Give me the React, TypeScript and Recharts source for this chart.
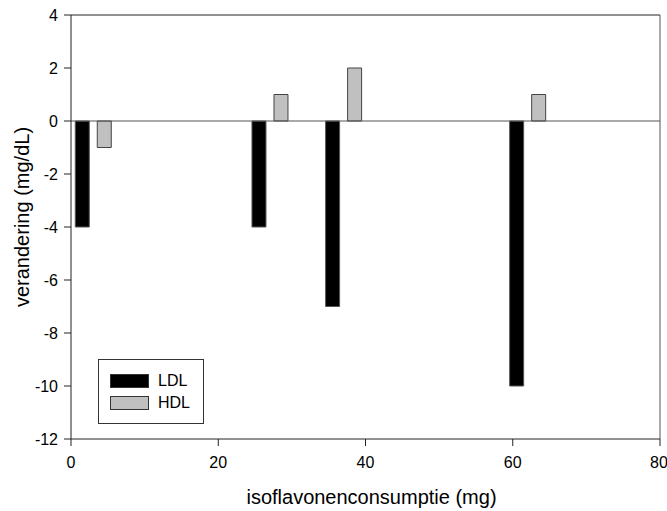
import React from "react";
import { ComposedChart, Bar, XAxis, YAxis, ReferenceLine } from "recharts";

const groupX = [3, 27, 37, 62];
const ldlValues = [-4, -4, -7, -10];
const hdlValues = [-1, 1, 2, 1];
const xTicks = [0, 20, 40, 60, 80];
const yTicks = [-12, -10, -8, -6, -4, -2, 0, 2, 4];
const seriesNames = ["LDL", "HDL"];
const seriesFills = ["#000000", "#c0c0c0"];

const data = groupX.map((x, i) => ({ x, LDL: ldlValues[i], HDL: hdlValues[i] }));

const FONT = "'Liberation Sans', Arial, sans-serif";

const XLabel = (props: any) => {
  const vb = props.viewBox || {};
  const cx = vb.x + vb.width / 2 + 6;
  return (
    <text x={cx} y={504} textAnchor="middle" fontSize={20} fontFamily={FONT} fill="#000">
      isoflavonenconsumptie (mg)
    </text>
  );
};

const YLabel = (props: any) => {
  const vb = props.viewBox || {};
  const cy = vb.y + vb.height / 2 - 10;
  const x = 29;
  return (
    <text
      x={x}
      y={cy}
      textAnchor="middle"
      fontSize={20}
      fontFamily={FONT}
      fill="#000"
      transform={`rotate(-90, ${x}, ${cy})`}
    >
      verandering (mg/dL)
    </text>
  );
};

export default function App() {
  return (
    <div style={{ position: "absolute", left: 0, top: 0, width: 667, height: 511, background: "#fff" }}>
      <ComposedChart
        width={667}
        height={511}
        data={data}
        margin={{ top: 15, right: 7, left: 0, bottom: 0 }}
        barGap={8}
      >
        <XAxis
          dataKey="x"
          type="number"
          domain={[0, 80]}
          ticks={xTicks}
          height={72}
          tickSize={7}
          tickMargin={11}
          stroke="#222"
          tick={{ fill: "#000", fontSize: 16, fontFamily: FONT }}
          tickLine={{ stroke: "#222" }}
          label={<XLabel />}
          allowDataOverflow
        />
        <YAxis
          type="number"
          domain={[-12, 4]}
          ticks={yTicks}
          width={71}
          tickSize={7}
          tickMargin={6}
          stroke="#222"
          tick={{ fill: "#000", fontSize: 16, fontFamily: FONT }}
          tickLine={{ stroke: "#222" }}
          label={<YLabel />}
          allowDataOverflow
        />
        <ReferenceLine y={0} stroke="#555" strokeWidth={1} />
        <ReferenceLine y={4} stroke="#222" strokeWidth={1} />
        <ReferenceLine x={80} stroke="#555" strokeWidth={1} />
        <Bar dataKey="LDL" fill={seriesFills[0]} stroke="#555" strokeWidth={1} barSize={14} isAnimationActive={false} />
        <Bar dataKey="HDL" fill={seriesFills[1]} stroke="#444" strokeWidth={1} barSize={14} isAnimationActive={false} />
      </ComposedChart>
      <div
        style={{
          position: "absolute",
          left: 98,
          top: 359,
          width: 104,
          height: 63,
          border: "1px solid #333",
          fontFamily: FONT,
          fontSize: 16,
          color: "#000",
        }}
      >
        {seriesNames.map((name, i) => (
          <div
            key={name}
            style={{ position: "absolute", left: 11, top: 14 + i * 22, display: "flex", alignItems: "center", height: 14 }}
          >
            <div
              style={{
                width: 37,
                height: 12,
                background: seriesFills[i],
                border: "1px solid #333",
                marginRight: 9,
              }}
            />
            <span style={{ lineHeight: "14px" }}>{name}</span>
          </div>
        ))}
      </div>
    </div>
  );
}
